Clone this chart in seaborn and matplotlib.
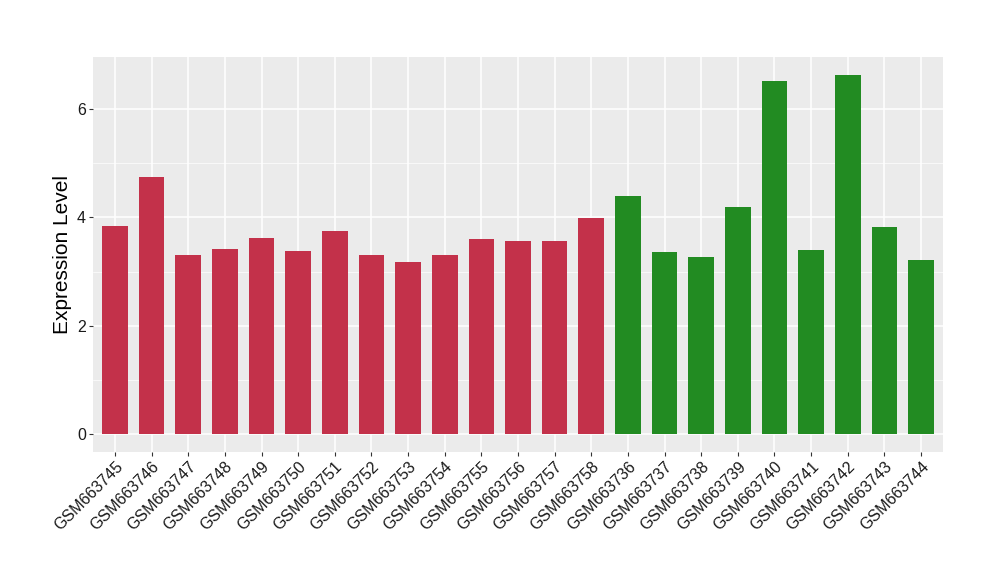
import matplotlib.pyplot as plt
import seaborn as sns
import pandas as pd

# sample ids and expression values
samples = [
    'GSM663745', 'GSM663746', 'GSM663747', 'GSM663748', 'GSM663749',
    'GSM663750', 'GSM663751', 'GSM663752', 'GSM663753', 'GSM663754',
    'GSM663755', 'GSM663756', 'GSM663757', 'GSM663758',
    'GSM663736', 'GSM663737', 'GSM663738', 'GSM663739', 'GSM663740',
    'GSM663741', 'GSM663742', 'GSM663743', 'GSM663744',
]
expression = [
    3.84, 4.75, 3.30, 3.42, 3.62, 3.38, 3.75, 3.30, 3.18, 3.30,
    3.60, 3.56, 3.56, 3.99,
    4.40, 3.36, 3.27, 4.19, 6.52, 3.40, 6.63, 3.82, 3.21,
]
groups = ['case'] * 14 + ['control'] * 9
group_colors = {'case': '#C3314A', 'control': '#228B22'}

df = pd.DataFrame({'Sample': samples, 'Expression': expression, 'Group': groups})

sns.set_theme(style='darkgrid')
plt.rcParams['font.family'] = ['Liberation Sans', 'DejaVu Sans']

fig = plt.figure(figsize=(10, 5.8), dpi=100)
ax = fig.add_axes([0.093, 0.2207, 0.85, 0.681])
ax.set_facecolor('#EBEBEB')

sns.barplot(data=df, x='Sample', y='Expression', hue='Group',
            palette=group_colors, dodge=False, width=0.7,
            saturation=1, legend=False, linewidth=0, edgecolor='none', ax=ax)

# ggplot-like grid
ax.set_ylim(-0.33, 6.96)
ax.set_xlim(-0.6, len(samples) - 0.4)
ax.set_yticks([0, 2, 4, 6])
ax.set_yticks([1, 3, 5], minor=True)
ax.grid(which='major', color='white', linewidth=1.1)
ax.grid(which='minor', axis='y', color='white', linewidth=0.5)
ax.set_axisbelow(True)
for s in ax.spines.values():
    s.set_visible(False)

ax.set_xlabel('')
ax.set_ylabel('Expression Level', fontsize=15, color='black')
ax.tick_params(axis='both', which='major', length=3, width=0.8,
               color='#333333', labelsize=11.5, labelcolor='#1a1a1a',
               bottom=True, left=True, pad=2)
ax.tick_params(axis='y', which='minor', length=0)
plt.setp(ax.get_xticklabels(), rotation=45, ha='right', rotation_mode='anchor')

fig.savefig('out.png', dpi=100)
